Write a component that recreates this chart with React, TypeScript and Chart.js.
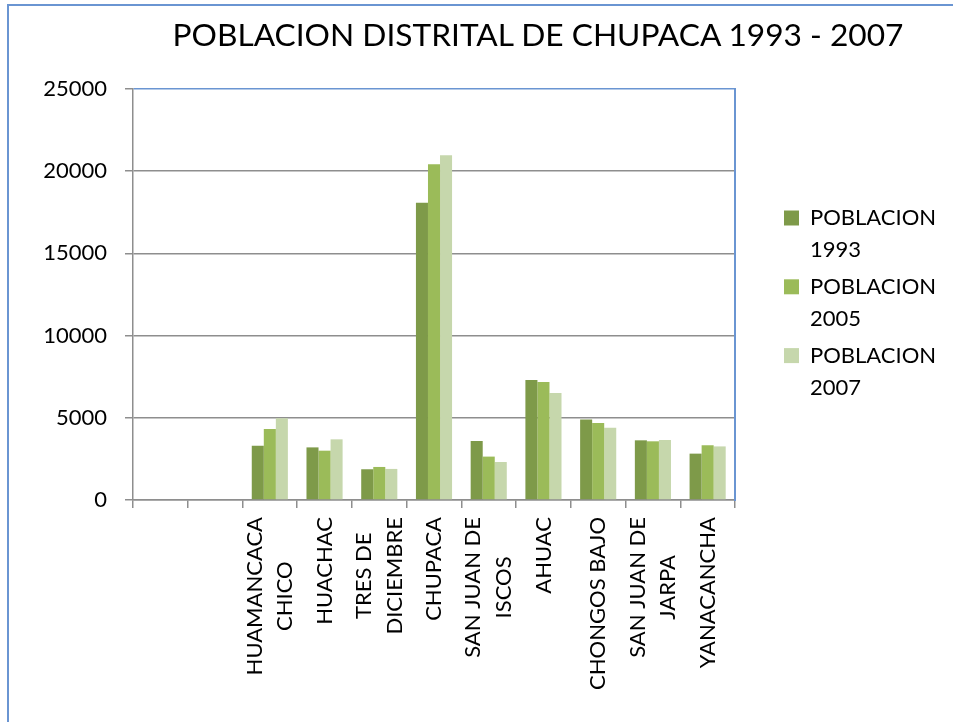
import React, { useEffect, useRef } from "react";
import { Chart, registerables } from "chart.js";

Chart.register(...registerables);

const chartTitle = "POBLACION DISTRITAL DE CHUPACA 1993 - 2007";
const districts: (string | string[])[] = [
  "",
  "",
  ["HUAMANCACA", "CHICO"],
  "HUACHAC",
  ["TRES DE", "DICIEMBRE"],
  "CHUPACA",
  ["SAN JUAN DE", "ISCOS"],
  "AHUAC",
  "CHONGOS BAJO",
  ["SAN JUAN DE", "JARPA"],
  "YANACANCHA",
];
const seriesLabels = [
  ["POBLACION", "1993"],
  ["POBLACION", "2005"],
  ["POBLACION", "2007"],
];
const pop1993 = [null, null, 3300, 3200, 1870, 18080, 3590, 7300, 4890, 3630, 2820];
const pop2005 = [null, null, 4320, 3000, 2010, 20420, 2640, 7180, 4680, 3570, 3330];
const pop2007 = [null, null, 4970, 3690, 1890, 20970, 2310, 6510, 4400, 3650, 3260];
const yTicksMin = 0;
const yTicksMax = 25000;
const yTicksStep = 5000;

const colors = ["#7E9A49", "#9BBB59", "#C6D7AC"];
const blue = "#6A95D2";
const gray = "#8E8E8E";
const FONT = "Lato";

// Center the lines of multi-line rotated category labels (as Excel does).
const centerMultiLineLabels = {
  id: "centerMultiLineLabels",
  beforeDraw(chart: any) {
    const scale: any = chart.scales.x;
    if (!scale || !scale.getLabelItems) return;
    const items = scale.getLabelItems(chart.chartArea);
    const ctx = chart.ctx;
    items.forEach((it: any) => {
      if (it._centered) return;
      it._centered = true;
      if (Array.isArray(it.label) && it.label.length > 1) {
        const lh = (it.font && it.font.lineHeight) || 30.8;
        it.textOffset -= ((it.label.length - 1) * lh) / 2;
        ctx.save();
        if (it.font && it.font.string) ctx.font = it.font.string;
        const maxW = Math.max(...it.label.map((l: string) => ctx.measureText(l).width));
        ctx.restore();
        const tr = it.options.translation;
        it.options = {
          ...it.options,
          textAlign: "center",
          translation: [tr[0], tr[1] + maxW / 2],
        };
      }
    });
  },
};

export default function App() {
  const ref = useRef<HTMLCanvasElement>(null);

  useEffect(() => {
    if (!ref.current) return;
    Chart.defaults.font.family = FONT;
    const chart = new Chart(ref.current, {
      type: "bar",
      data: {
        labels: districts as any,
        datasets: [pop1993, pop2005, pop2007].map((d, i) => ({
          label: seriesLabels[i] as any,
          data: d as any,
          backgroundColor: colors[i],
          borderWidth: 0,
          barPercentage: 1,
          categoryPercentage: 0.66,
        })),
      },
      plugins: [centerMultiLineLabels],
      options: {
        responsive: false,
        animation: false,
        devicePixelRatio: 1,
        layout: { padding: { top: 89, left: 0, right: 14, bottom: 0 } },
        plugins: {
          title: { display: false },
          tooltip: { enabled: false },
          legend: {
            display: true,
            position: "right",
            fullSize: false,
            align: "start",
            maxWidth: 160,
            title: {
              display: true,
              text: " ",
              font: { size: 22, lineHeight: 1 },
              padding: { top: 91, bottom: 0 },
            },
            labels: {
              boxWidth: 15,
              boxHeight: 15,
              padding: 5,
              color: "#000",
              font: { size: 22, lineHeight: 1.45 },
            },
          },
        },
        scales: {
          x: {
            offset: true,
            grid: {
              display: true,
              offset: true,
              drawOnChartArea: false,
              drawTicks: true,
              tickLength: 8,
              color: gray,
              lineWidth: 1.5,
            },
            border: { display: true, color: gray, width: 1.5 },
            ticks: {
              autoSkip: false,
              maxRotation: 90,
              minRotation: 90,
              padding: 9,
              color: "#000",
              font: { size: 22, lineHeight: 1.4 },
            },
            afterFit: (s: any) => {
              s.height = 222;
            },
          },
          y: {
            min: yTicksMin,
            max: yTicksMax,
            position: "left",
            grid: {
              color: (c: any) => (c.tick && c.tick.value === yTicksMax ? blue : gray),
              tickColor: gray,
              lineWidth: 1.5,
              tickLength: 8,
              drawTicks: true,
            },
            border: { display: true, color: gray, width: 1.5 },
            ticks: {
              stepSize: yTicksStep,
              padding: 18,
              color: "#000",
              font: { size: 22 },
              callback: (v: any) => String(v),
            },
            afterFit: (s: any) => {
              s.width = 133;
            },
          },
          yRight: {
            type: "linear",
            position: "right",
            display: true,
            min: yTicksMin,
            max: yTicksMax,
            grid: { display: false, drawTicks: false },
            ticks: { display: false },
            border: { display: true, color: blue, width: 2 },
            afterFit: (s: any) => {
              s.width = 44;
            },
          },
        },
      } as any,
    });
    return () => chart.destroy();
  }, []);

  return (
    <div>
      <div
        style={{
          position: "fixed",
          left: 7,
          top: 4,
          width: 2000,
          height: 2000,
          border: `2px solid ${blue}`,
          boxSizing: "border-box",
        }}
      />
      <div
        style={{
          position: "fixed",
          left: 0,
          top: 15,
          width: 1076,
          textAlign: "center",
          fontFamily: FONT,
          fontSize: 31.7,
          lineHeight: 1.2,
          color: "#000",
          whiteSpace: "nowrap",
        }}
      >
        {chartTitle}
      </div>
      <canvas
        ref={ref}
        width={953}
        height={722}
        style={{ position: "fixed", left: 0, top: 0, width: 953, height: 722 }}
      />
    </div>
  );
}
